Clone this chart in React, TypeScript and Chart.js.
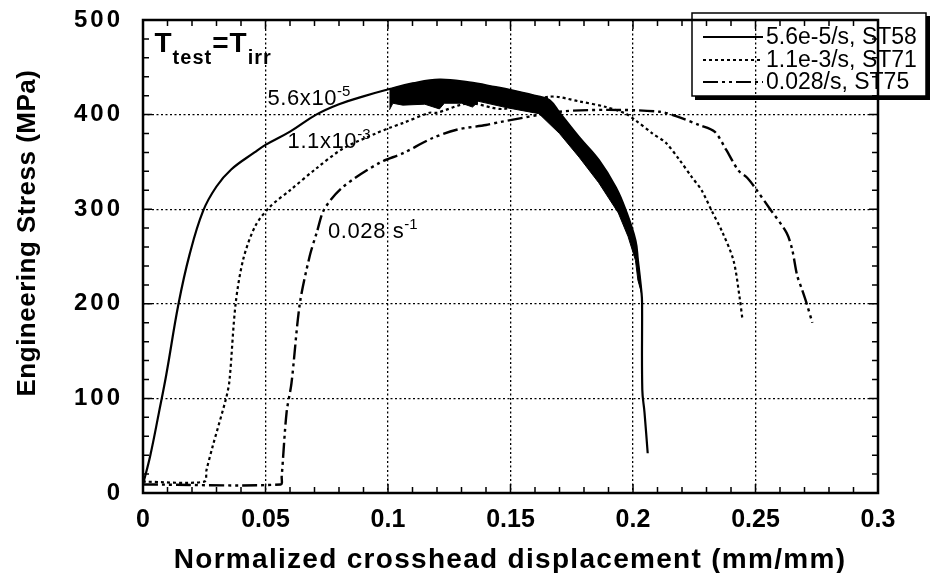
import React, { useEffect, useRef } from "react";
import { Chart, registerables } from "chart.js";

Chart.register(...registerables);

// ---------- axis ticks ----------
const X_TICK_VALUES = [0, 0.05, 0.1, 0.15, 0.2, 0.25, 0.3];
const X_TICK_LABELS = ["0", "0.05", "0.1", "0.15", "0.2", "0.25", "0.3"];
const Y_TICK_VALUES = [0, 100, 200, 300, 400, 500];
const Y_TICK_LABELS = ["0", "100", "200", "300", "400", "500"];

const X_TITLE = "Normalized crosshead displacement (mm/mm)";
const Y_TITLE = "Engineering Stress (MPa)";

// ---------- series 1: 5.6e-5/s, ST58 (solid; upper edge of serrated band) ----------
const S1_X = [0, 0.003, 0.0065, 0.0095, 0.0145, 0.019, 0.0245, 0.030, 0.036, 0.0455, 0.050, 0.060, 0.0707, 0.080, 0.0896,
  0.1006, 0.11, 0.121, 0.133, 0.144, 0.150, 0.1616, 0.166, 0.170, 0.178, 0.186, 0.193, 0.197, 0.201, 0.202, 0.2035,
  0.2037, 0.2038, 0.2047, 0.206];
const S1_Y = [9, 40, 85, 125, 200, 252, 298, 324, 342, 360, 368, 382, 400, 411, 419,
  427, 433, 437, 434, 429, 426, 419, 415, 402, 376, 352, 323, 299, 267, 246, 211,
  201, 109, 85, 42];

// lower edge of the serrated band of series 1
const S1_LOW_X = [0.1006, 0.102, 0.106, 0.115, 0.121, 0.123, 0.13, 0.1345, 0.137, 0.149, 0.1616, 0.170, 0.178, 0.186,
  0.194, 0.198, 0.201, 0.202, 0.2035];
const S1_LOW_Y = [405, 412, 410, 411, 406, 412, 412, 408, 414, 407, 401, 380, 355, 328,
  296, 271, 246, 225, 211];

// ---------- series 2: 1.1e-3/s, ST71 (dotted) ----------
const S2_X = [0, 0.025, 0.0259, 0.0284, 0.034, 0.0353, 0.0378, 0.041, 0.046, 0.052, 0.060, 0.0707, 0.0816, 0.095, 0.1006,
  0.106, 0.117, 0.12, 0.133, 0.147, 0.166, 0.178, 0.189, 0.197, 0.201, 0.208, 0.2135, 0.219, 0.224, 0.228, 0.232,
  0.2366, 0.241, 0.2435, 0.2447];
const S2_Y = [12, 12, 24, 49, 101, 119, 200, 248, 283, 303, 320, 343, 364, 380, 386,
  391, 402, 402, 412, 406, 419, 414, 408, 401, 394, 380, 370, 352, 334, 320, 299,
  275, 246, 207, 183];

// ---------- series 3: 0.028/s, ST75 (dash-dot) ----------
const S3_X = [0, 0.0562, 0.0566, 0.0586, 0.0606, 0.064, 0.068, 0.071, 0.074, 0.0814, 0.0965, 0.106, 0.118, 0.128,
  0.140, 0.1455, 0.170, 0.19, 0.211, 0.219, 0.227, 0.2333, 0.238, 0.243, 0.2467, 0.250, 0.2557, 0.2627, 0.265,
  0.267, 0.269, 0.2708, 0.2732];
const S3_Y = [9, 9, 17, 85, 116, 200, 250, 276, 300, 323, 349, 359, 375, 384,
  389, 392, 403, 405, 403, 397, 389, 382, 363, 341, 333, 322, 301, 275, 257,
  230, 215, 201, 180];

const LEGEND_LABELS = ["5.6e-5/s, ST58", "1.1e-3/s, ST71", "0.028/s, ST75"];

// curve annotations: [text, superscript, x (data), y (data)]
const CURVE_NOTES: [string, string, number, number][] = [
  ["5.6x10", "-5", 0.0508, 410],
  ["1.1x10", "-3", 0.059, 365],
  ["0.028 s", "-1", 0.0755, 270],
];

const DASH_SOLID: number[] = [];
const DASH_DOT: number[] = [3, 3];
const DASH_DASHDOT: number[] = [15, 4, 3, 4, 3, 4];
const SANS = "'Liberation Sans', Arial, Helvetica, sans-serif";

const pts = (xs: number[], ys: number[]) => xs.map((x, i) => ({ x, y: ys[i] }));

export default function App() {
  const ref = useRef<HTMLCanvasElement | null>(null);

  useEffect(() => {
    document.body.style.margin = "0";
    const canvas = ref.current!;
    const s1 = pts(S1_X, S1_Y);
    const bandTop = s1.filter((p) => p.x >= 0.1006 && p.x <= 0.2035);
    const bandLow = pts(S1_LOW_X, S1_LOW_Y).reverse();
    const band = [...bandTop, ...bandLow];

    const frame = {
      id: "frame",
      afterDraw(chart: any) {
        const { ctx, chartArea: a, scales } = chart;
        const xs = scales.x;
        const ys = scales.y;
        ctx.save();
        ctx.strokeStyle = "#000";
        ctx.fillStyle = "#000";
        ctx.lineWidth = 1.5;
        ctx.setLineDash([]);
        // inward ticks
        for (let i = 0; i <= 30; i++) {
          const px = xs.getPixelForValue(i / 100);
          const len = i % 5 === 0 ? 9 : 6;
          ctx.beginPath();
          ctx.moveTo(px, a.bottom);
          ctx.lineTo(px, a.bottom - len);
          ctx.moveTo(px, a.top);
          ctx.lineTo(px, a.top + len);
          ctx.stroke();
        }
        for (let i = 0; i <= 25; i++) {
          const py = ys.getPixelForValue(i * 20);
          const len = i % 5 === 0 ? 9 : 6;
          ctx.beginPath();
          ctx.moveTo(a.left, py);
          ctx.lineTo(a.left + len, py);
          ctx.moveTo(a.right, py);
          ctx.lineTo(a.right - len, py);
          ctx.stroke();
        }
        ctx.lineWidth = 2.5;
        ctx.strokeRect(a.left, a.top, a.right - a.left, a.bottom - a.top);

        // axis titles
        ctx.textAlign = "center";
        ctx.textBaseline = "middle";
        ctx.font = `bold 28px ${SANS}`;
        (ctx as any).letterSpacing = "1.3px";
        ctx.fillText(X_TITLE, 510, 560);
        (ctx as any).letterSpacing = "0.5px";
        ctx.save();
        ctx.translate(28, 233);
        ctx.rotate(-Math.PI / 2);
        ctx.font = `bold 26px ${SANS}`;
        ctx.fillText(Y_TITLE, 0, 0);
        ctx.restore();

        // T_test = T_irr
        ctx.textAlign = "left";
        ctx.textBaseline = "alphabetic";
        (ctx as any).letterSpacing = "1px";
        let cx = xs.getPixelForValue(0.0047);
        const base = ys.getPixelForValue(466);
        const big = `bold 28px ${SANS}`;
        const small = `bold 20px ${SANS}`;
        const parts: [string, string, number][] = [
          ["T", big, 0], ["test", small, 12], ["=", big, 0], ["T", big, 0], ["irr", small, 12],
        ];
        for (const [t, f, dy] of parts) {
          ctx.font = f;
          ctx.fillText(t, cx, base + dy);
          cx += ctx.measureText(t).width;
        }
        (ctx as any).letterSpacing = "0px";

        // curve annotations
        for (const [t, sup, dx, dy] of CURVE_NOTES) {
          const px = xs.getPixelForValue(dx);
          const py = ys.getPixelForValue(dy);
          ctx.font = `22px ${SANS}`;
          (ctx as any).letterSpacing = "0.6px";
          ctx.fillText(t, px, py);
          const w = ctx.measureText(t).width;
          (ctx as any).letterSpacing = "0px";
          ctx.font = `15px ${SANS}`;
          ctx.fillText(sup, px + w, py - 9);
        }

        // legend
        const lx = 692, ly = 13, lw = 234, lh = 83;
        ctx.lineWidth = 1.5;
        ctx.strokeRect(lx, ly, lw, lh);
        ctx.fillRect(lx + 3, ly + lh, lw, 4);
        ctx.fillRect(lx + lw, ly + 3, 4, lh + 1);
        const dashes = [DASH_SOLID, DASH_DOT, DASH_DASHDOT];
        const rows = [37, 60, 82];
        ctx.font = `23px ${SANS}`;
        ctx.textBaseline = "middle";
        for (let i = 0; i < 3; i++) {
          ctx.setLineDash(dashes[i]);
          ctx.lineWidth = 2;
          ctx.beginPath();
          ctx.moveTo(703, rows[i]);
          ctx.lineTo(763, rows[i]);
          ctx.stroke();
          ctx.setLineDash([]);
          ctx.fillText(LEGEND_LABELS[i], 766, rows[i] + 1);
        }
        ctx.restore();
      },
    };

    const zeroPad = (s: any) => {
      s.paddingTop = 0;
      s.paddingBottom = 0;
      s.paddingLeft = 0;
      s.paddingRight = 0;
    };

    const chart = new Chart(canvas, {
      type: "scatter",
      data: {
        datasets: [
          {
            label: "band",
            data: band,
            showLine: true,
            fill: "shape",
            backgroundColor: "#000",
            borderColor: "#000",
            borderWidth: 1,
            pointRadius: 0,
            tension: 0,
          },
          {
            label: LEGEND_LABELS[0],
            data: s1,
            showLine: true,
            borderColor: "#000",
            borderWidth: 2.2,
            borderDash: DASH_SOLID,
            pointRadius: 0,
            fill: false,
            tension: 0.4,
          },
          {
            label: LEGEND_LABELS[1],
            data: pts(S2_X, S2_Y),
            showLine: true,
            borderColor: "#000",
            borderWidth: 2.2,
            borderDash: DASH_DOT,
            pointRadius: 0,
            fill: false,
            tension: 0.3,
          },
          {
            label: LEGEND_LABELS[2],
            data: pts(S3_X, S3_Y),
            showLine: true,
            borderColor: "#000",
            borderWidth: 2.4,
            borderDash: DASH_DASHDOT,
            pointRadius: 0,
            fill: false,
            tension: 0.3,
          },
        ],
      },
      options: {
        animation: false,
        responsive: false,
        devicePixelRatio: 1,
        layout: { padding: { top: 20, right: 52, left: 0, bottom: 0 } },
        plugins: { legend: { display: false }, tooltip: { enabled: false } },
        scales: {
          x: {
            type: "linear",
            min: 0,
            max: 0.3,
            afterBuildTicks: (s: any) => {
              s.ticks = X_TICK_VALUES.map((v) => ({ value: v }));
            },
            afterFit: (s: any) => {
              s.height = 80;
              zeroPad(s);
            },
            ticks: {
              padding: 12,
              color: "#000",
              font: { family: SANS, size: 25, weight: "bold" },
              callback: (v: any) => X_TICK_LABELS[X_TICK_VALUES.findIndex((t) => Math.abs(t - v) < 1e-9)] ?? "",
              maxRotation: 0,
            },
            grid: { color: "#000", lineWidth: 1.3, drawTicks: false },
            border: { display: false, dash: [2, 2.5] },
          },
          y: {
            type: "linear",
            min: 0,
            max: 500,
            afterBuildTicks: (s: any) => {
              s.ticks = Y_TICK_VALUES.map((v) => ({ value: v }));
            },
            afterFit: (s: any) => {
              s.width = 143;
              zeroPad(s);
              const orig = s.drawLabels;
              if (!s._spaced) {
                s._spaced = true;
                s.drawLabels = function (area: any) {
                  const c = this.ctx;
                  c.save();
                  c.letterSpacing = "3px";
                  orig.call(this, area);
                  c.restore();
                };
              }
            },
            ticks: {
              padding: 20,
              color: "#000",
              font: { family: SANS, size: 24, weight: "bold" },
              callback: (v: any) => Y_TICK_LABELS[Y_TICK_VALUES.indexOf(v)] ?? "",
            },
            grid: { color: "#000", lineWidth: 1.3, drawTicks: false },
            border: { display: false, dash: [2, 2.5] },
          },
        },
      },
      plugins: [frame],
    } as any);
    return () => chart.destroy();
  }, []);

  return (
    <div style={{ width: 930, height: 573, position: "relative", background: "#fff" }}>
      <canvas ref={ref} width={930} height={573} style={{ display: "block" }} />
    </div>
  );
}
